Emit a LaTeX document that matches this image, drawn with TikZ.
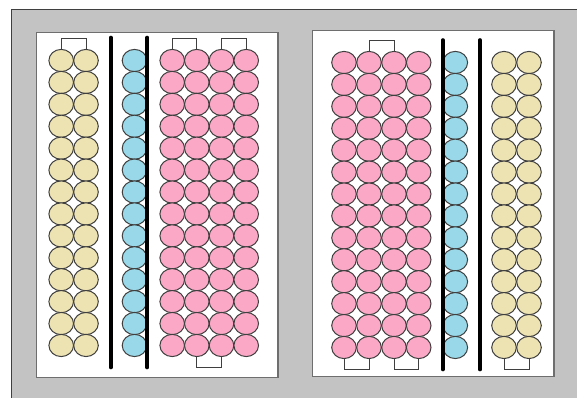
\documentclass[tikz,border=0pt]{standalone}
\usetikzlibrary{shapes.geometric}
\definecolor{bggray}{HTML}{C3C3C3}
\definecolor{bead}{HTML}{EDE2B1}
\definecolor{pinkbead}{HTML}{FBA8C6}
\definecolor{bluebead}{HTML}{98D8E8}
\definecolor{edgegray}{HTML}{3F3F3F}
\definecolor{panelgray}{HTML}{6E6E6E}
\tikzset{
  bd/.style={ellipse, draw=edgegray, line width=1pt, inner sep=0pt,
             minimum width=24.6pt, minimum height=22.2pt},
  ybd/.style={bd, fill=bead},
  pbd/.style={bd, fill=pinkbead},
  cbd/.style={bd, fill=bluebead},
  bar/.style={line width=3.6pt, line cap=round, black},
  brk/.style={draw=edgegray, line width=0.8pt},
  panel/.style={draw=panelgray, fill=white, line width=1.1pt}
}
\begin{document}
\begin{tikzpicture}[x=1pt,y=-1pt]
\useasboundingbox (0,0) rectangle (577,397);
\fill[white] (0,0) rectangle (577,397);
\draw[fill=bggray, draw=edgegray, line width=0.9pt] (11.7,9.3) rectangle (580,400);
% panels
\draw[panel] (36.7,32.3) rectangle (278,377.7);
\draw[panel] (312.7,30.7) rectangle (554,376.3);
% ---------- left panel ----------
\foreach \r in {1,...,14}{
  \pgfmathsetmacro{\yy}{60.5+21.92*(\r-1)}
  \node[ybd] (LY1-\r) at (61.2,\yy) {};
  \node[ybd] (LY2-\r) at (86,\yy) {};
  \node[cbd] (LC-\r) at (134.5,\yy) {};
  \node[pbd] (LP1-\r) at (172.2,\yy) {};
  \node[pbd] (LP2-\r) at (196.8,\yy) {};
  \node[pbd] (LP3-\r) at (221.5,\yy) {};
  \node[pbd] (LP4-\r) at (246.2,\yy) {};
}
\coordinate (LB1t) at (110.7,37.5);
\coordinate (LB1b) at (110.7,367.5);
\coordinate (LB2t) at (147.2,37.5);
\coordinate (LB2b) at (147.2,367.5);
\draw[bar] (LB1t) -- (LB1b);
\draw[bar] (LB2t) -- (LB2b);
\draw[brk] (LY1-1.north) -- (61.2,38.3) -- (86,38.3) -- (LY2-1.north);
\draw[brk] (LP1-1.north) -- (172.2,38.3) -- (196.8,38.3) -- (LP2-1.north);
\draw[brk] (LP3-1.north) -- (221.5,38.3) -- (246.2,38.3) -- (LP4-1.north);
\draw[brk] (LP2-14.south) -- (196.8,367.3) -- (221.5,367.3) -- (LP3-14.south);
% ---------- right panel ----------
\foreach \r in {1,...,14}{
  \pgfmathsetmacro{\yy}{62.5+21.92*(\r-1)}
  \node[pbd] (RP1-\r) at (344,\yy) {};
  \node[pbd] (RP2-\r) at (369,\yy) {};
  \node[pbd] (RP3-\r) at (394,\yy) {};
  \node[pbd] (RP4-\r) at (418.7,\yy) {};
  \node[cbd] (RC-\r) at (455.3,\yy) {};
  \node[ybd] (RY1-\r) at (504,\yy) {};
  \node[ybd] (RY2-\r) at (529,\yy) {};
}
\coordinate (RB1t) at (442.8,40);
\coordinate (RB1b) at (442.8,369.5);
\coordinate (RB2t) at (480,40);
\coordinate (RB2b) at (480,369.5);
\draw[bar] (RB1t) -- (RB1b);
\draw[bar] (RB2t) -- (RB2b);
\draw[brk] (RP2-1.north) -- (369,40.7) -- (394,40.7) -- (RP3-1.north);
\draw[brk] (RP1-14.south) -- (344,369) -- (369,369) -- (RP2-14.south);
\draw[brk] (RP3-14.south) -- (394,369) -- (418.7,369) -- (RP4-14.south);
\draw[brk] (RY1-14.south) -- (504,369) -- (529,369) -- (RY2-14.south);
\end{tikzpicture}
\end{document}
